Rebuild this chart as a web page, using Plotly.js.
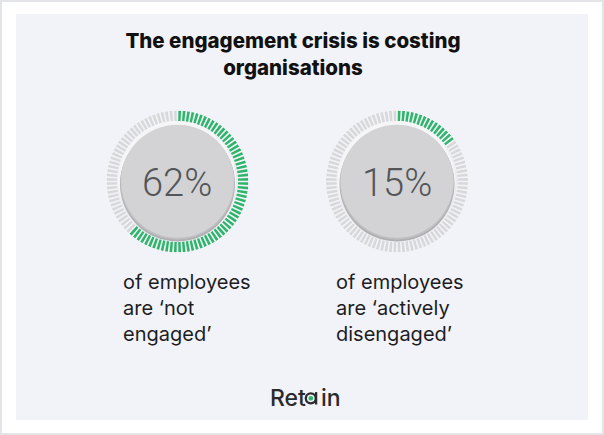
<!DOCTYPE html>
<html>
<head>
<meta charset="utf-8">
<script src="https://cdn.plot.ly/plotly-3.0.1.min.js"></script>
<style>html,body{margin:0;padding:0;background:#fff;}#chart{width:604px;height:435px;}</style>
</head>
<body>
<div id="chart"></div>
<script>
// ---- data ----
const categories = ['not engaged', 'actively disengaged'];
const percentValues = [62, 15];
const percentLabels = ['62%', '15%'];
const captionLines = [
  ['of employees', 'are ‘not', 'engaged’'],
  ['of employees', 'are ‘actively', 'disengaged’']
];
const titleLines = ['The engagement crisis is costing', 'organisations'];
const brandParts = ['Ret', 'in'];   // brand "Retain", the "a" is drawn as the logo mark
const tickCount = 100;

// ---- layout helpers (pixel -> paper) ----
const W = 604, H = 435;
const px = x => x / W;
const py = y => 1 - y / H;

const gauges = [
  {cx: 177.5, cy: 181.5, textX: 123},
  {cx: 397, cy: 181.5, textX: 336}
];
const outerR = 71, innerR = 60.5;
const GREEN = '#2fb56b', GREY = '#d8d8da', INK = '#2a2a2c';

const traces = [];
const layout = {
  width: W, height: H,
  margin: {l: 0, r: 0, t: 0, b: 0},
  paper_bgcolor: '#ffffff',
  plot_bgcolor: 'rgba(0,0,0,0)',
  showlegend: false,
  font: {family: 'Inter, sans-serif', color: '#1d1d1f'},
  title: {
    text: titleLines.join('<br>'),
    x: px(293), xanchor: 'center', xref: 'paper',
    y: py(48), yanchor: 'middle', yref: 'paper',
    font: {family: 'Inter', size: 20.5, weight: 800, color: '#111111'}
  },
  shapes: [
    {type: 'rect', xref: 'paper', yref: 'paper', x0: px(1), x1: px(603), y0: py(1), y1: py(434),
     line: {color: '#e3e4e8', width: 2}, fillcolor: '#ffffff', layer: 'below'},
    {type: 'rect', xref: 'paper', yref: 'paper', x0: px(16), x1: px(588), y0: py(14), y1: py(420),
     line: {width: 0}, fillcolor: '#f2f3f8', layer: 'below'}
  ],
  annotations: []
};

const circle = (cx, cy, r, fill, opacity) => ({
  type: 'circle', xref: 'paper', yref: 'paper',
  x0: px(cx - r), x1: px(cx + r), y0: py(cy + r), y1: py(cy - r),
  line: {width: 0}, fillcolor: fill, opacity: opacity === undefined ? 1 : opacity, layer: 'above'
});

gauges.forEach((g, k) => {
  const pid = k === 0 ? 'polar' : 'polar2';
  const theta = [], r = [], colors = [];
  for (let i = 0; i < tickCount; i++) {
    theta.push((i + 0.5) * 360 / tickCount);
    r.push(outerR - innerR);
    colors.push(i < percentValues[k] * tickCount / 100 ? GREEN : GREY);
  }
  traces.push({
    type: 'barpolar', subplot: pid, name: categories[k],
    theta: theta, r: r, base: innerR, width: 2.2,
    marker: {color: colors, line: {width: 0}},
    hoverinfo: 'skip'
  });
  layout[pid] = {
    domain: {x: [px(g.cx - outerR), px(g.cx + outerR)], y: [py(g.cy + outerR), py(g.cy - outerR)]},
    bgcolor: 'rgba(0,0,0,0)',
    radialaxis: {range: [0, outerR], visible: false, showgrid: false},
    angularaxis: {visible: false, showgrid: false, rotation: 90, direction: 'clockwise'},
    hole: 0
  };
  // disc with halo and shadow
  layout.shapes.push(circle(g.cx, g.cy, 60, '#ebebee'));
  layout.shapes.push(circle(g.cx - 0.5, g.cy - 1.5, 59, '#f6f6f8'));
  layout.shapes.push(circle(g.cx, g.cy + 2.5, 57.5, '#a5a5a8', 0.85));
  layout.shapes.push(circle(g.cx, g.cy + 1.2, 57, '#bfbfc2'));
  layout.shapes.push(circle(g.cx, g.cy - 0.3, 56.5, '#d3d3d6'));
  layout.annotations.push({
    text: percentLabels[k], xref: 'paper', yref: 'paper',
    x: px(g.cx), y: py(g.cy + 1), xanchor: 'center', yanchor: 'middle', showarrow: false,
    font: {family: 'Roboto', size: 38, weight: 300, color: '#545557'}
  });
  layout.annotations.push({
    text: captionLines[k].join('<br>'), xref: 'paper', yref: 'paper',
    x: px(g.textX - 2), y: py(268), xanchor: 'left', yanchor: 'top', align: 'left', showarrow: false,
    font: {family: 'Inter', size: 20, weight: 400, color: '#1d1d1f'}
  });
});

// brand: "Ret" + logo-a + "in"
const brandFont = {family: 'Inter', size: 23, weight: 500, color: INK};
layout.annotations.push({
  text: brandParts[0], xref: 'paper', yref: 'paper',
  x: px(307.5), y: py(397.5), xanchor: 'right', yanchor: 'middle', showarrow: false, font: brandFont
});
layout.annotations.push({
  text: brandParts[1], xref: 'paper', yref: 'paper',
  x: px(318.5), y: py(397.5), xanchor: 'left', yanchor: 'middle', showarrow: false, font: brandFont
});
const aCx = 310.8, aCy = 398.3, aR = 5.0;
layout.shapes.push({type: 'circle', xref: 'paper', yref: 'paper',
  x0: px(aCx - aR), x1: px(aCx + aR), y0: py(aCy + aR), y1: py(aCy - aR),
  line: {color: INK, width: 2.3}, fillcolor: 'rgba(0,0,0,0)', layer: 'above'});
layout.shapes.push({type: 'line', xref: 'paper', yref: 'paper',
  x0: px(aCx + aR + 0.3), x1: px(aCx + aR + 0.3), y0: py(aCy - aR - 1.2), y1: py(aCy + aR + 1.2),
  line: {color: INK, width: 2.3}, layer: 'above'});
layout.shapes.push(circle(aCx, aCy, 2.4, GREEN));

Plotly.newPlot('chart', traces, layout, {displayModeBar: false, staticPlot: true});
</script>
</body>
</html>
